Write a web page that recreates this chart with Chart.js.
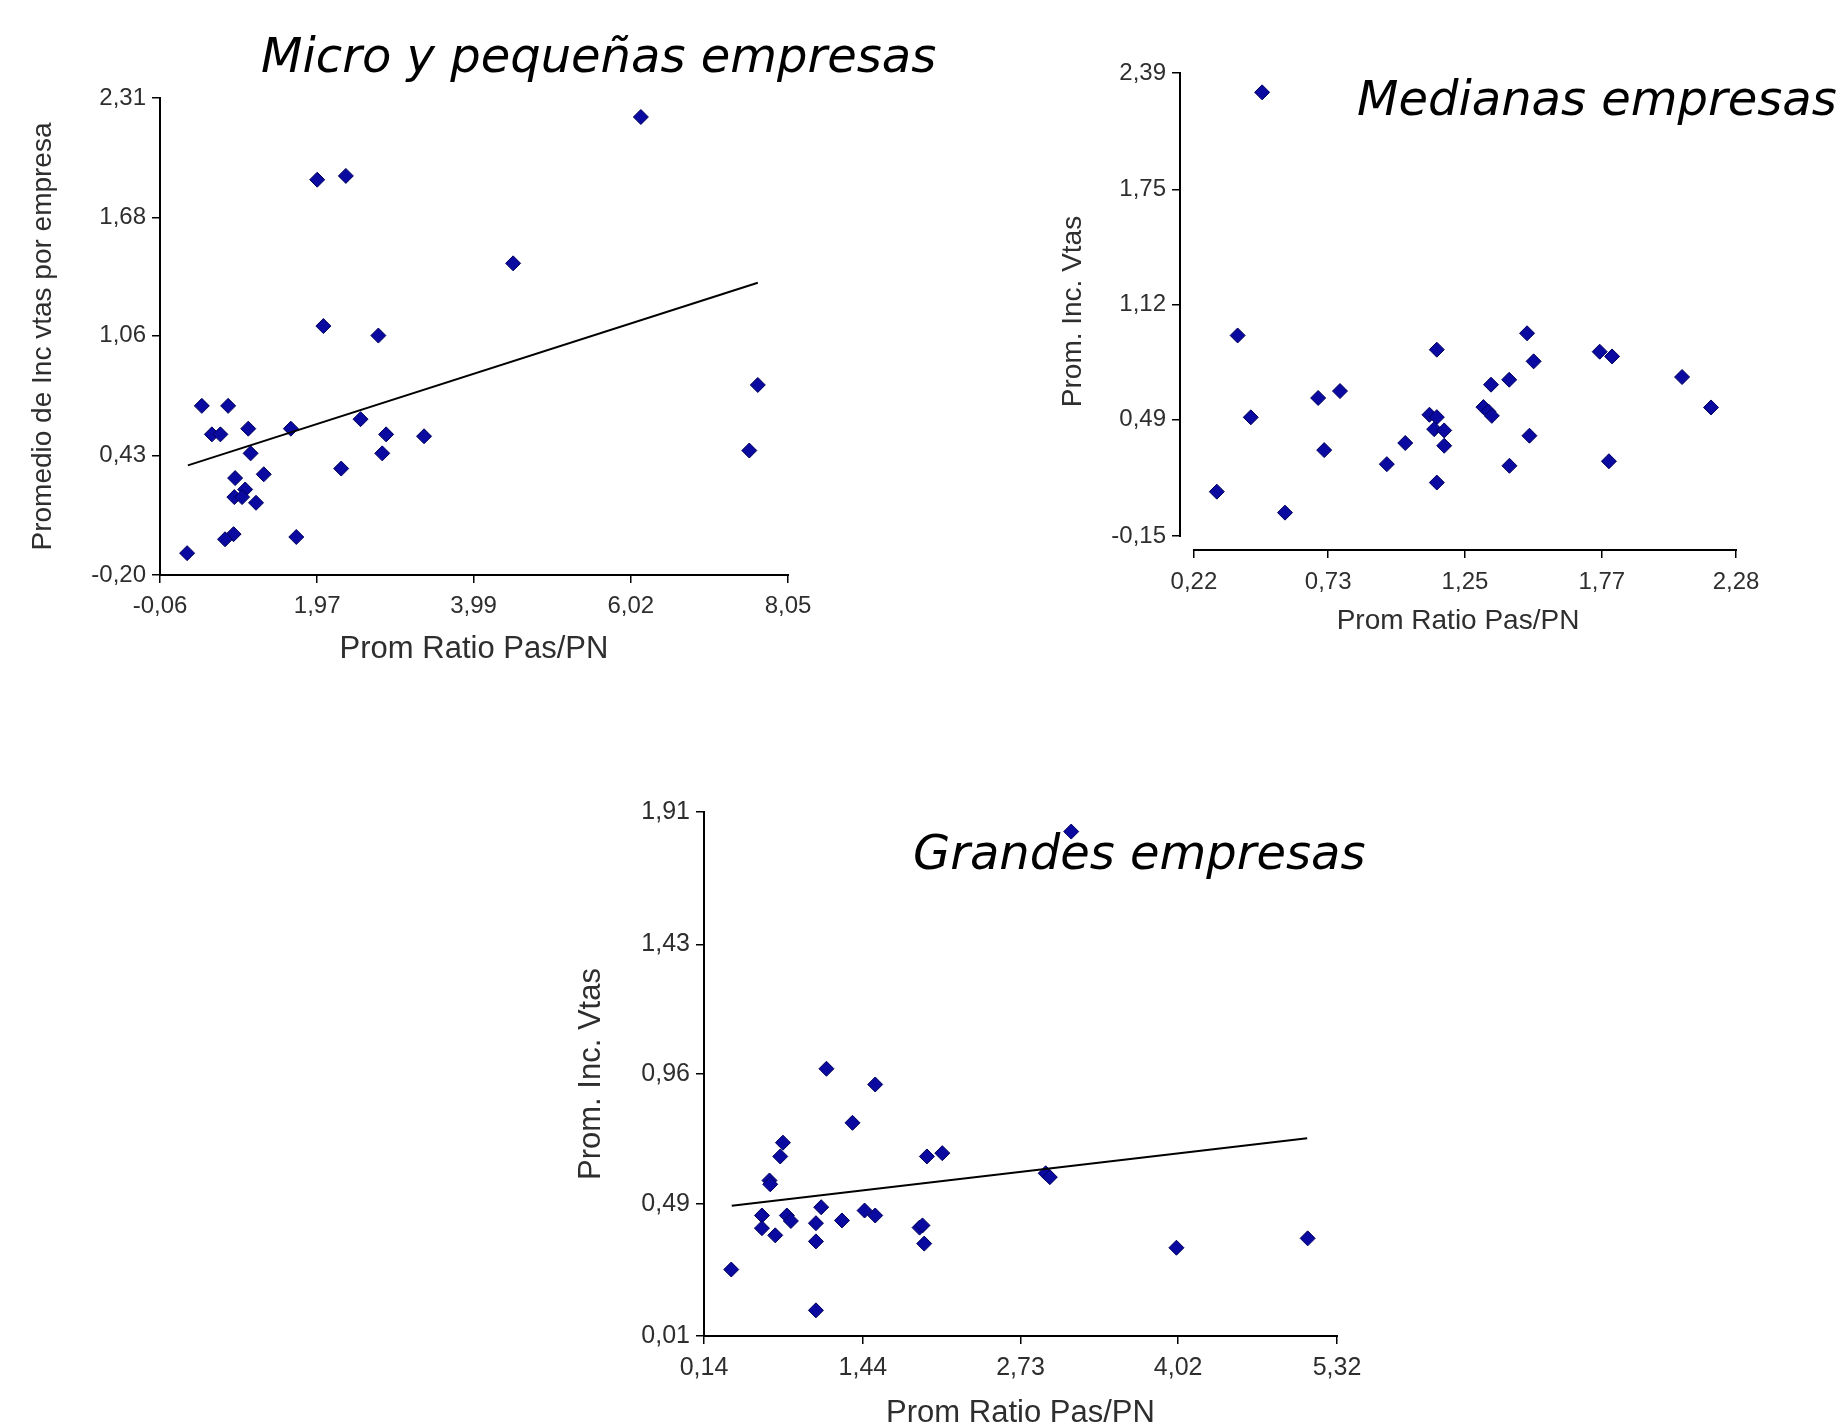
<!DOCTYPE html>
<html lang="es">
<head>
<meta charset="utf-8">
<title>Prom Ratio Pas/PN vs Prom. Inc. Vtas</title>
<script src="https://cdn.jsdelivr.net/npm/chart.js@4.4.1/dist/chart.umd.min.js"></script>
<style>
  html, body { margin: 0; padding: 0; background: #fff; overflow: hidden; }
  body { width: 1838px; height: 1423px; position: relative; }
  canvas { position: absolute; }
  .titulo {
    position: absolute;
    font-family: 'DejaVu Sans', Verdana, sans-serif;
    font-style: italic;
    font-size: 48px;
    line-height: 48px;
    color: #000;
    white-space: nowrap;
  }
</style>
</head>
<body>
<canvas id="chartMicro" width="830" height="593" style="left:0px; top:75px; width:830px; height:593px;"></canvas>
<canvas id="chartMedianas" width="798" height="588" style="left:1040px; top:50px; width:798px; height:588px;"></canvas>
<canvas id="chartGrandes" width="817" height="642" style="left:560px; top:790px; width:817px; height:642px;"></canvas>

<div class="titulo" style="left:261px; top:31px;">Micro y pequeñas empresas</div>
<div class="titulo" style="left:1357px; top:74px;">Medianas empresas</div>
<div class="titulo" style="left:913px; top:828px;">Grandes empresas</div>

<script>
// Micro y pequeñas empresas
const microX = [6.15, 1.97, 2.34, 4.50, 2.05, 2.76, 7.66, 0.48, 0.82, 0.61, 0.72, 1.08, 1.63, 2.53, 2.86,
                3.35, 2.81, 1.11, 7.55, 2.28, 1.28, 0.91, 1.04, 0.90, 1.00, 1.18, 0.89, 0.78, 1.70, 0.29];
const microY = [2.21, 1.88, 1.90, 1.44, 1.11, 1.06, 0.80, 0.69, 0.69, 0.54, 0.54, 0.57, 0.57, 0.62, 0.54,
                0.53, 0.44, 0.44, 0.455, 0.36, 0.33, 0.31, 0.25, 0.21, 0.21, 0.18, 0.015, -0.012, 0.00, -0.085];
const microTrendX = [0.30, 7.66];
const microTrendY = [0.377, 1.338];
const microXTicks = [-0.06, 1.97, 3.99, 6.02, 8.05];
const microYTicks = [-0.20, 0.43, 1.06, 1.68, 2.31];

// Medianas empresas
const medX = [0.479, 0.386, 1.486, 1.143, 1.762, 1.809, 1.511, 2.075, 1.418, 1.349, 0.775, 0.692, 2.185,
              1.320, 1.339, 1.352, 0.436, 1.115, 1.143, 1.133, 1.171, 1.495, 1.023, 1.171, 0.715, 0.953,
              1.419, 1.797, 1.143, 0.307, 0.566];
const medY = [2.284, 0.950, 0.962, 0.872, 0.861, 0.835, 0.808, 0.722, 0.707, 0.680, 0.645, 0.607, 0.555,
              0.557, 0.533, 0.509, 0.501, 0.515, 0.502, 0.436, 0.429, 0.400, 0.360, 0.345, 0.321, 0.244,
              0.235, 0.260, 0.143, 0.093, -0.022];
const medXTicks = [0.22, 0.73, 1.25, 1.77, 2.28];
const medYTicks = [-0.15, 0.49, 1.12, 1.75, 2.39];

// Grandes empresas
const grandX = [3.145, 1.142, 1.541, 1.355, 0.786, 0.764, 1.964, 2.090, 2.936, 2.970, 0.676, 0.682, 1.099,
                1.454, 1.541, 0.614, 0.818, 0.851, 1.269, 1.056, 0.614, 1.904, 1.928, 0.723, 1.056, 1.942,
                5.080, 4.006, 0.363, 1.056];
const grandY = [1.839, 0.979, 0.922, 0.783, 0.711, 0.661, 0.661, 0.673, 0.600, 0.586, 0.574, 0.560, 0.477,
                0.465, 0.447, 0.447, 0.447, 0.427, 0.429, 0.419, 0.401, 0.403, 0.411, 0.375, 0.353, 0.345,
                0.364, 0.330, 0.251, 0.103];
const grandTrendX = [0.367, 5.076];
const grandTrendY = [0.482, 0.727];
const grandXTicks = [0.14, 1.44, 2.73, 4.02, 5.32];
const grandYTicks = [0.01, 0.49, 0.96, 1.43, 1.91];

const COLOR_TEXTO = '#2e2e2e';
const formatoComa = v => v.toFixed(2).replace('.', ',');

Chart.defaults.font.family = "'Liberation Sans', Arial, sans-serif";

// ejes dibujados desde el primer al último tick (en Medianas quedan separados)
const ejesPlugin = {
  id: 'ejes',
  beforeDatasetsDraw(chart) {
    const { ctx, chartArea, scales } = chart;
    const xt = scales.x.ticks, yt = scales.y.ticks;
    ctx.save();
    ctx.strokeStyle = '#000';
    ctx.lineWidth = 2;
    ctx.lineCap = 'square';
    ctx.beginPath();
    ctx.moveTo(chartArea.left, scales.y.getPixelForValue(yt[0].value));
    ctx.lineTo(chartArea.left, scales.y.getPixelForValue(yt[yt.length - 1].value));
    ctx.moveTo(scales.x.getPixelForValue(xt[0].value), chartArea.bottom);
    ctx.lineTo(scales.x.getPixelForValue(xt[xt.length - 1].value), chartArea.bottom);
    ctx.stroke();
    ctx.restore();
  }
};

function crearGrafico(canvasId, cfg) {
  const ctx = document.getElementById(canvasId);
  if (!ctx) {
    console.error(`Canvas no encontrado: ${canvasId}`);
    return;
  }

  const datasets = [{
    data: cfg.xs.map((x, i) => ({ x: x, y: cfg.ys[i] })),
    pointStyle: 'rectRot',
    pointRadius: 7.5,
    backgroundColor: '#0a0aa0',
    borderColor: '#00005c',
    borderWidth: 1
  }];

  if (cfg.trendX) {
    datasets.unshift({
      data: cfg.trendX.map((x, i) => ({ x: x, y: cfg.trendY[i] })),
      showLine: true,
      pointRadius: 0,
      borderColor: '#000',
      borderWidth: 2,
      fill: false
    });
  }

  const grid = {
    display: true,
    drawOnChartArea: false,
    drawTicks: true,
    tickLength: 8,
    color: '#000',
    lineWidth: 1.5
  };

  new Chart(ctx, {
    type: 'scatter',
    data: { datasets: datasets },
    options: {
      responsive: false,
      animation: false,
      devicePixelRatio: 1,
      events: [],
      layout: { padding: { top: cfg.padTop, right: cfg.padRight, left: 0, bottom: 0 } },
      plugins: {
        legend: { display: false },
        tooltip: { enabled: false }
      },
      scales: {
        x: {
          type: 'linear',
          min: cfg.xMin,
          max: cfg.xTicks[cfg.xTicks.length - 1],
          afterBuildTicks: s => { s.ticks = cfg.xTicks.map(v => ({ value: v })); },
          afterFit: s => { s.height = cfg.xAxisHeight; },
          ticks: {
            callback: formatoComa,
            autoSkip: false,
            maxRotation: 0,
            padding: cfg.xTickPad,
            color: COLOR_TEXTO,
            font: { size: cfg.tickSize }
          },
          grid: grid,
          border: { display: false },
          title: {
            display: true,
            text: 'Prom Ratio Pas/PN',
            color: COLOR_TEXTO,
            font: { size: cfg.xTitleSize },
            padding: { top: 0, bottom: 0 }
          }
        },
        y: {
          type: 'linear',
          min: cfg.yMin,
          max: cfg.yTicks[cfg.yTicks.length - 1],
          afterBuildTicks: s => { s.ticks = cfg.yTicks.map(v => ({ value: v })); },
          afterFit: s => { s.width = cfg.yAxisWidth; },
          ticks: {
            callback: formatoComa,
            autoSkip: false,
            padding: 6,
            color: COLOR_TEXTO,
            font: { size: cfg.tickSize }
          },
          grid: grid,
          border: { display: false },
          title: {
            display: true,
            text: cfg.yTitle,
            color: COLOR_TEXTO,
            font: { size: cfg.yTitleSize },
            padding: { top: cfg.yTitlePad, bottom: 0 }
          }
        }
      }
    },
    plugins: [ejesPlugin]
  });
}

crearGrafico('chartMicro', {
  xs: microX, ys: microY, trendX: microTrendX, trendY: microTrendY,
  xTicks: microXTicks, yTicks: microYTicks,
  xMin: -0.06, yMin: -0.20,
  yTitle: 'Promedio de Inc vtas por empresa',
  tickSize: 24, xTitleSize: 31, yTitleSize: 28, xTickPad: 9,
  padTop: 23, padRight: 42, yAxisWidth: 160, xAxisHeight: 93, yTitlePad: 26
});

// en Medianas los ejes no se tocan: el rango arranca un poco antes del primer tick
crearGrafico('chartMedianas', {
  xs: medX, ys: medY,
  xTicks: medXTicks, yTicks: medYTicks,
  xMin: 0.167, yMin: -0.227,
  yTitle: 'Prom. Inc. Vtas',
  tickSize: 24, xTitleSize: 28, yTitleSize: 28, xTickPad: 10,
  padTop: 23, padRight: 102, yAxisWidth: 140, xAxisHeight: 88, yTitlePad: 16
});

crearGrafico('chartGrandes', {
  xs: grandX, ys: grandY, trendX: grandTrendX, trendY: grandTrendY,
  xTicks: grandXTicks, yTicks: grandYTicks,
  xMin: 0.14, yMin: 0.01,
  yTitle: 'Prom. Inc. Vtas',
  tickSize: 25, xTitleSize: 31, yTitleSize: 31, xTickPad: 9,
  padTop: 22, padRight: 40, yAxisWidth: 144, xAxisHeight: 96, yTitlePad: 13
});
</script>
</body>
</html>
